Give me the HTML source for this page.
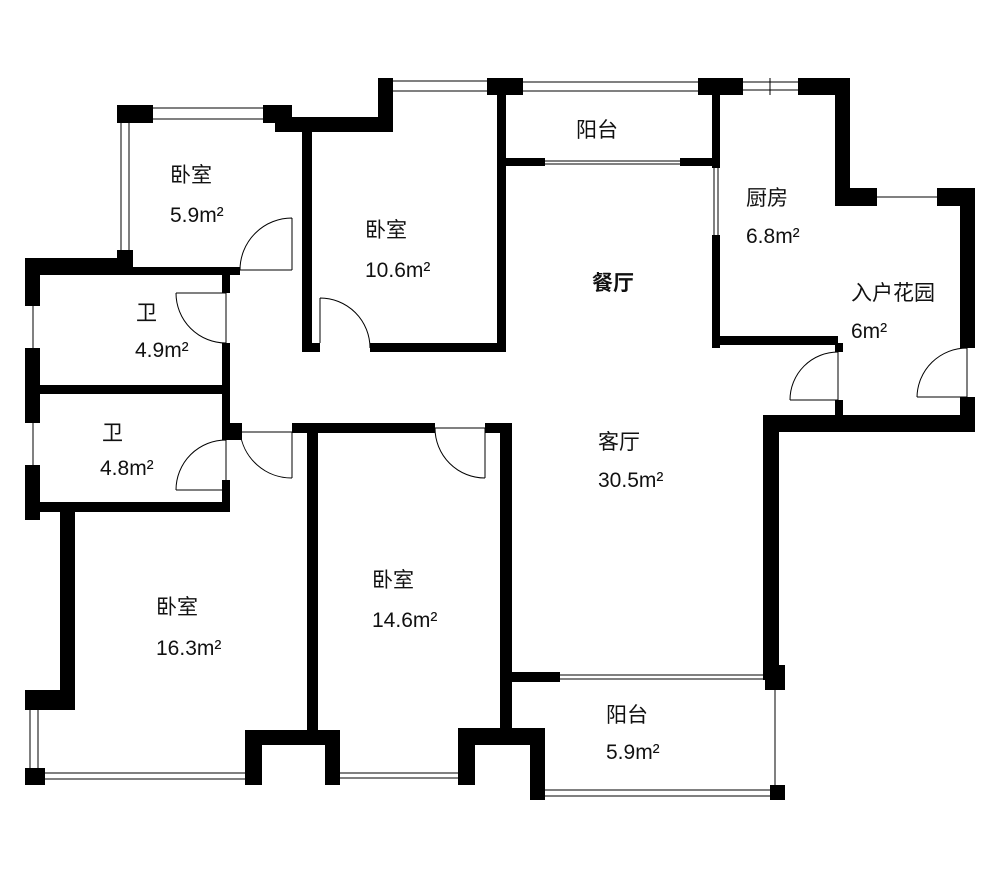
<!DOCTYPE html>
<html><head><meta charset="utf-8"><style>
html,body{margin:0;padding:0;background:#fff;}
svg{display:block}
text{font-family:"Liberation Sans","Noto Sans CJK SC",sans-serif;font-size:21px;fill:#111}
</style></head><body>
<svg width="1000" height="879" viewBox="0 0 1000 879" xmlns="http://www.w3.org/2000/svg">
<g fill="#000">
<rect x="117" y="105" width="36" height="18"/>
<rect x="263" y="105" width="29" height="18"/>
<rect x="275" y="117" width="118" height="15"/>
<rect x="378" y="78" width="15" height="54"/>
<rect x="302" y="117" width="10" height="235"/>
<rect x="302" y="343" width="18" height="9"/>
<rect x="370" y="343" width="135" height="9"/>
<rect x="487" y="78" width="36" height="17"/>
<rect x="497" y="78" width="9" height="274"/>
<rect x="505" y="158" width="40" height="8"/>
<rect x="680" y="158" width="40" height="8"/>
<rect x="698" y="78" width="45" height="17"/>
<rect x="712" y="78" width="8" height="90"/>
<rect x="712" y="235" width="8" height="113"/>
<rect x="712" y="336" width="126" height="9"/>
<rect x="798" y="78" width="52" height="17"/>
<rect x="835" y="78" width="15" height="128"/>
<rect x="835" y="188" width="42" height="18"/>
<rect x="937" y="188" width="38" height="18"/>
<rect x="960" y="188" width="15" height="160"/>
<rect x="960" y="397" width="15" height="35"/>
<rect x="835" y="343" width="8" height="9"/>
<rect x="835" y="400" width="8" height="15"/>
<rect x="763" y="415" width="212" height="17"/>
<rect x="763" y="415" width="16" height="265"/>
<rect x="765" y="665" width="20" height="25"/>
<rect x="25" y="258" width="105" height="17"/>
<rect x="117" y="250" width="16" height="25"/>
<rect x="130" y="267" width="110" height="8"/>
<rect x="25" y="258" width="15" height="48"/>
<rect x="222" y="267" width="8" height="26"/>
<rect x="222" y="343" width="8" height="50"/>
<rect x="25" y="348" width="15" height="75"/>
<rect x="25" y="385" width="205" height="9"/>
<rect x="222" y="385" width="8" height="55"/>
<rect x="222" y="423" width="20" height="17"/>
<rect x="222" y="480" width="8" height="32"/>
<rect x="25" y="465" width="15" height="55"/>
<rect x="25" y="502" width="205" height="10"/>
<rect x="292" y="423" width="143" height="10"/>
<rect x="485" y="423" width="27" height="10"/>
<rect x="307" y="423" width="11" height="312"/>
<rect x="500" y="423" width="12" height="310"/>
<rect x="60" y="502" width="15" height="208"/>
<rect x="25" y="690" width="50" height="20"/>
<rect x="25" y="768" width="20" height="17"/>
<rect x="245" y="730" width="95" height="15"/>
<rect x="245" y="730" width="17" height="55"/>
<rect x="325" y="730" width="15" height="55"/>
<rect x="458" y="728" width="87" height="17"/>
<rect x="458" y="728" width="17" height="57"/>
<rect x="530" y="728" width="15" height="72"/>
<rect x="505" y="672" width="55" height="10"/>
<rect x="770" y="785" width="15" height="15"/>
</g>
<g stroke="#000" fill="none" stroke-width="1">
<path d="M153 108H263M153 119H263"/>
<path d="M121 123V250M129 123V250"/>
<path d="M393 81H487M393 91H487"/>
<path d="M523 82H698M523 91H698"/>
<path d="M743 82H798M743 90H798M770 78V95"/>
<path d="M877 197H937"/>
<path d="M545 161H680M545 164H680"/>
<path d="M714 168V235M718 168V235"/>
<path d="M33 306V348M33 423V465"/>
<path d="M30 710V768M38 710V768"/>
<path d="M45 773H245M45 779H245"/>
<path d="M340 773H458M340 778H458"/>
<path d="M545 790H770M545 796H770"/>
<path d="M560 675H770M560 679H770"/>
<path d="M775 690V785"/>
<path d="M838 352V400"/>
<path d="M292 218V270M240 270H292M292 218A52 52 0 0 0 240 270"/>
<path d="M320 298V343M320 298A50 50 0 0 1 370 348"/>
<path d="M226 293V343M176 293H226M176 293A50 50 0 0 0 226 343"/>
<path d="M226 440V490M176 490H226M226 440A50 50 0 0 0 176 490"/>
<path d="M240 432H292M292 432V478M240 432A52 52 0 0 0 292 478"/>
<path d="M435 428H485M485 428V478M435 428A50 50 0 0 0 485 478"/>
<path d="M838 400H790M838 352A48 48 0 0 0 790 400"/>
<path d="M967 348V397M917 397H967M967 348A50 50 0 0 0 917 397"/>
</g>
<text x="170" y="182">卧室</text>
<text x="170" y="222">5.9m²</text>
<text x="365" y="237">卧室</text>
<text x="365" y="277">10.6m²</text>
<text x="576" y="137">阳台</text>
<text x="592" y="290" style="font-weight:bold">餐厅</text>
<text x="746" y="205">厨房</text>
<text x="746" y="243">6.8m²</text>
<text x="851" y="300">入户花园</text>
<text x="851" y="338">6m²</text>
<text x="136" y="320">卫</text>
<text x="135" y="357">4.9m²</text>
<text x="102" y="440">卫</text>
<text x="100" y="475">4.8m²</text>
<text x="598" y="449">客厅</text>
<text x="598" y="487">30.5m²</text>
<text x="156" y="614">卧室</text>
<text x="156" y="655">16.3m²</text>
<text x="372" y="587">卧室</text>
<text x="372" y="627">14.6m²</text>
<text x="606" y="722">阳台</text>
<text x="606" y="759">5.9m²</text>
</svg>
</body></html>
